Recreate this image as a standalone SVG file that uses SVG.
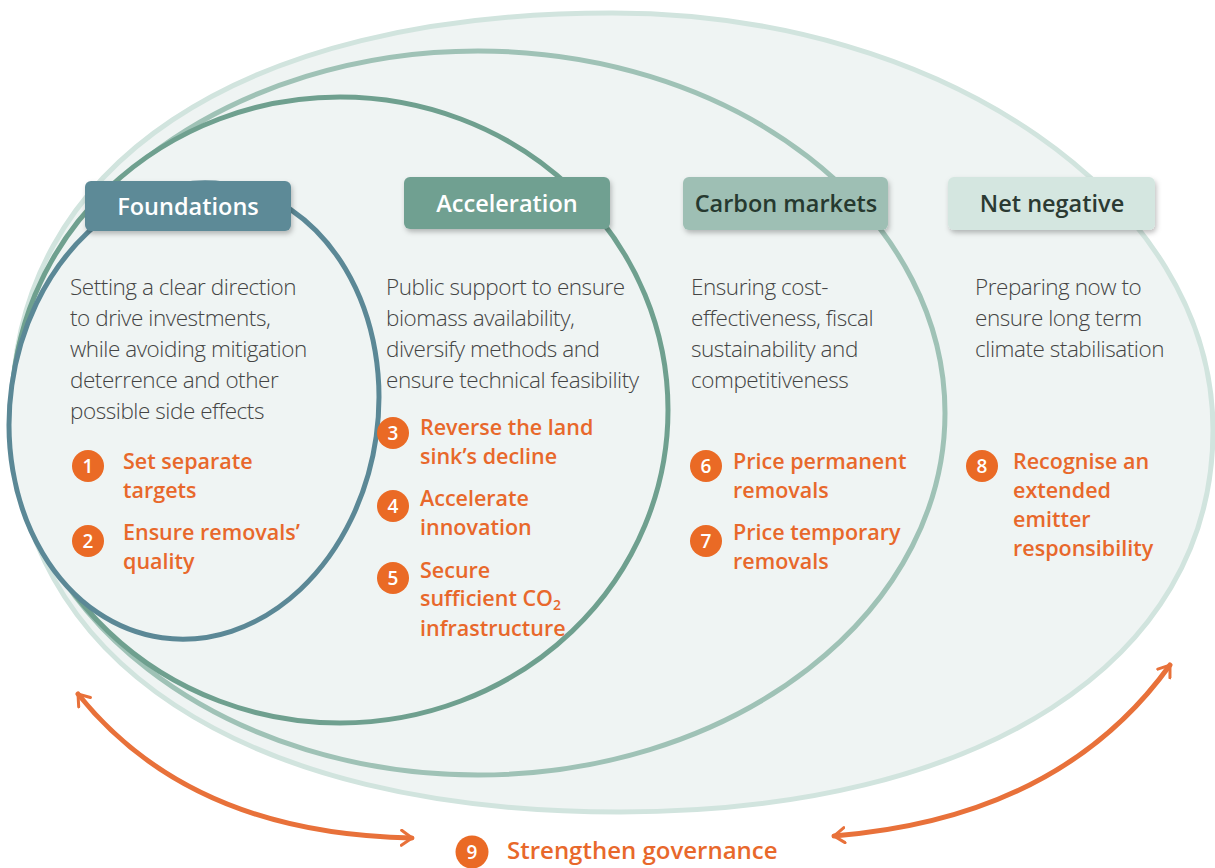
<svg xmlns="http://www.w3.org/2000/svg" width="1215" height="868" viewBox="0 0 1215 868">
<defs>
<filter id="sh" x="-10%" y="-20%" width="120%" height="150%">
<feDropShadow dx="1.5" dy="3" stdDeviation="2.5" flood-color="#000" flood-opacity="0.25"/>
</filter>
<marker id="ah" viewBox="0 0 14 18" refX="12" refY="9" markerWidth="14" markerHeight="18" markerUnits="userSpaceOnUse" orient="auto-start-reverse">
<path d="M1.5,1.5 L12,9 L1.5,16.5" fill="none" stroke="#e8713a" stroke-width="3" stroke-linecap="round" stroke-linejoin="miter"/>
</marker>
<style>
.ring{fill:#eff4f3;stroke-width:5}
.hd{font-family:"Open Sans","Noto Sans",sans-serif;font-weight:600;font-size:23.5px;text-anchor:middle}
.ds{font-family:"Open Sans","Noto Sans",sans-serif;font-weight:300;font-size:22.5px;letter-spacing:-0.45px;fill:#444}
.it{font-family:"Open Sans","Noto Sans",sans-serif;font-weight:600;font-size:21.5px;fill:#e8682b}
.big{font-size:24px}
.nc{fill:#ea6a25}
.nt{font-family:"Open Sans","Noto Sans",sans-serif;font-weight:600;font-size:19px;fill:#fff;text-anchor:middle}
.arr{fill:none;stroke:#e8713a;stroke-width:5;stroke-linecap:round}
</style>
</defs>
<rect width="1215" height="868" fill="#fff"/>
<g id="rings">
<path id="ring-net-negative" class="ring" stroke="#d1e4de" d="M12,412 C12,165 240,13 612,13 C944,13 1213,200 1213,430 C1213,662 980,812 620,812 C243,812 12,660 12,412 Z"/>
<ellipse id="ring-carbon-markets" class="ring" cx="478" cy="413" rx="467" ry="362" stroke="#9fc2b6"/>
<ellipse id="ring-acceleration" class="ring" cx="340" cy="410" rx="328" ry="313" stroke="#6fa08f"/>
<ellipse id="ring-foundations" class="ring" cx="194" cy="411" rx="184" ry="229" transform="rotate(8 194 411)" stroke="#5b8896"/>
</g>
<g id="connectors">
<path class="arr" d="M78,694 Q190,834 412,838" marker-start="url(#ah)" marker-end="url(#ah)"/>
<path class="arr" d="M834,836 Q1060,818 1170,665" marker-start="url(#ah)" marker-end="url(#ah)"/>
</g>
<g id="foundations">
<rect x="85" y="181" width="206" height="50" rx="6" fill="#5d8a97" filter="url(#sh)"/>
<text class="hd" x="188" y="215" fill="#fff">Foundations</text>
<text class="ds" x="70" y="295">Setting a clear direction</text>
<text class="ds" x="70" y="326">to drive investments,</text>
<text class="ds" x="70" y="357">while avoiding mitigation</text>
<text class="ds" x="70" y="388">deterrence and other</text>
<text class="ds" x="70" y="419">possible side effects</text>
</g>
<g id="item-1">
<circle class="nc" cx="88" cy="466" r="16"/><text class="nt" x="88" y="473">1</text>
<text class="it" x="123" y="469">Set separate</text>
<text class="it" x="123" y="498">targets</text>
</g>
<g id="item-2">
<circle class="nc" cx="88" cy="541" r="16"/><text class="nt" x="88" y="548">2</text>
<text class="it" x="123" y="540">Ensure removals’</text>
<text class="it" x="123" y="569">quality</text>
</g>
<g id="acceleration">
<rect x="404" y="177" width="206" height="52" rx="6" fill="#70a091" filter="url(#sh)"/>
<text class="hd" x="507" y="212" fill="#fff">Acceleration</text>
<text class="ds" x="386" y="295">Public support to ensure</text>
<text class="ds" x="386" y="326">biomass availability,</text>
<text class="ds" x="386" y="357">diversify methods and</text>
<text class="ds" x="386" y="388">ensure technical feasibility</text>
</g>
<g id="item-3">
<circle class="nc" cx="393" cy="433" r="16"/><text class="nt" x="393" y="440">3</text>
<text class="it" x="420" y="435">Reverse the land</text>
<text class="it" x="420" y="464">sink’s decline</text>
</g>
<g id="item-4">
<circle class="nc" cx="393" cy="506" r="16"/><text class="nt" x="393" y="513">4</text>
<text class="it" x="420" y="506">Accelerate</text>
<text class="it" x="420" y="535">innovation</text>
</g>
<g id="item-5">
<circle class="nc" cx="393" cy="578" r="16"/><text class="nt" x="393" y="585">5</text>
<text class="it" x="420" y="578">Secure</text>
<text class="it" x="420" y="606">sufficient CO<tspan font-size="14" dy="4">2</tspan></text>
<text class="it" x="420" y="636">infrastructure</text>
</g>
<g id="carbon-markets">
<rect x="683" y="177" width="205" height="53" rx="6" fill="#9ebfb4" filter="url(#sh)"/>
<text class="hd" x="786" y="212" fill="#26392f">Carbon markets</text>
<text class="ds" x="691" y="295">Ensuring cost-</text>
<text class="ds" x="691" y="326">effectiveness, fiscal</text>
<text class="ds" x="691" y="357">sustainability and</text>
<text class="ds" x="691" y="388">competitiveness</text>
</g>
<g id="item-6">
<circle class="nc" cx="706" cy="466" r="16"/><text class="nt" x="706" y="473">6</text>
<text class="it" x="733" y="469">Price permanent</text>
<text class="it" x="733" y="498">removals</text>
</g>
<g id="item-7">
<circle class="nc" cx="706" cy="541" r="16"/><text class="nt" x="706" y="548">7</text>
<text class="it" x="733" y="540">Price temporary</text>
<text class="it" x="733" y="569">removals</text>
</g>
<g id="net-negative">
<rect x="948" y="177" width="207" height="53" rx="6" fill="#d4e6e0" filter="url(#sh)"/>
<text class="hd" x="1052" y="212" fill="#2b3a33">Net negative</text>
<text class="ds" x="975" y="295">Preparing now to</text>
<text class="ds" x="975" y="326">ensure long term</text>
<text class="ds" x="975" y="357">climate stabilisation</text>
</g>
<g id="item-8">
<circle class="nc" cx="982" cy="466" r="16"/><text class="nt" x="982" y="473">8</text>
<text class="it" x="1013" y="469">Recognise an</text>
<text class="it" x="1013" y="498">extended</text>
<text class="it" x="1013" y="527">emitter</text>
<text class="it" x="1013" y="556">responsibility</text>
</g>
<g id="item-9">
<circle class="nc" cx="472" cy="852" r="16.5"/><text class="nt" x="472" y="859">9</text>
<text class="it big" x="507" y="859">Strengthen governance</text>
</g>
</svg>
